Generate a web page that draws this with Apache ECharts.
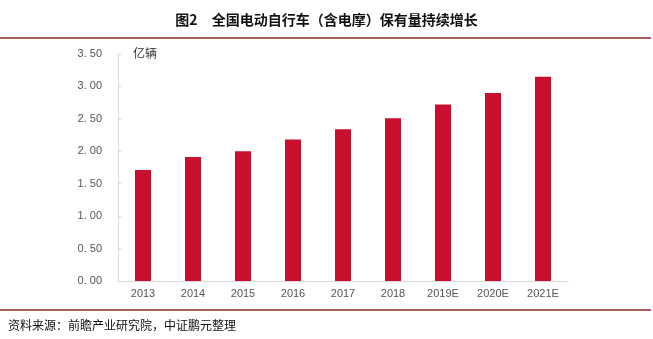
<!DOCTYPE html>
<html>
<head>
<meta charset="utf-8">
<style>
  html, body { margin: 0; padding: 0; background: #fff; }
  #chart { width: 653px; height: 339px; }
</style>
<script src="https://cdn.jsdelivr.net/npm/echarts@6/dist/echarts.min.js"></script>
</head>
<body>
<div id="chart"></div>
<script>
// Electric bicycle (incl. e-moped) fleet in China, 100 million units
const categories = ['2013', '2014', '2015', '2016', '2017', '2018', '2019E', '2020E', '2021E'];
const fleetValues = [1.71, 1.91, 2.00, 2.18, 2.34, 2.51, 2.72, 2.90, 3.15];
const titleText = '图2　全国电动自行车（含电摩）保有量持续增长';
const unitText = '亿辆';
const sourceText = '资料来源：前瞻产业研究院，中证鹏元整理';

const chart = echarts.init(document.getElementById('chart'));
const ruleColor = '#a5605c';

chart.setOption({
  animation: false,
  backgroundColor: '#fff',
  title: {
    text: titleText,
    left: 'center',
    top: 8,
    textStyle: {
      fontFamily: '"Noto Sans CJK SC", sans-serif',
      fontSize: 14,
      fontWeight: 'bold',
      color: '#111'
    }
  },
  graphic: [
    { type: 'rect', shape: { x: 0, y: 37, width: 651, height: 2 }, style: { fill: ruleColor } },
    { type: 'rect', shape: { x: 0, y: 309, width: 651, height: 2 }, style: { fill: ruleColor } },
    {
      type: 'text', left: 8, top: 319,
      style: {
        text: sourceText,
        fontFamily: '"Noto Sans CJK SC", sans-serif',
        fontSize: 12,
        fill: '#111'
      }
    },
    {
      type: 'text', left: 133, top: 47,
      style: {
        text: unitText,
        fontFamily: '"Noto Sans CJK SC", sans-serif',
        fontSize: 12,
        fill: '#333'
      }
    }
  ],
  grid: { left: 118, right: 85, top: 54, bottom: 58 },
  xAxis: {
    type: 'category',
    data: categories,
    axisLine: { lineStyle: { color: '#d9d9d9' } },
    axisTick: { show: false },
    axisLabel: { color: '#555', fontSize: 11, margin: 7, fontFamily: 'Arial, "Liberation Sans", sans-serif' }
  },
  yAxis: {
    type: 'value',
    min: 0,
    max: 3.5,
    interval: 0.5,
    axisLine: { show: true, lineStyle: { color: '#d9d9d9' } },
    axisTick: { show: true, inside: true, length: 3, lineStyle: { color: '#d9d9d9' } },
    splitLine: { show: false },
    axisLabel: {
      color: '#555',
      fontSize: 11,
      margin: 16,
      fontFamily: 'Arial, "Liberation Sans", sans-serif',
      formatter: v => v.toFixed(2).replace('.', '. ')
    }
  },
  series: [{
    type: 'bar',
    data: fleetValues,
    barWidth: 16,
    itemStyle: { color: '#c8102e' }
  }]
});
</script>
</body>
</html>
